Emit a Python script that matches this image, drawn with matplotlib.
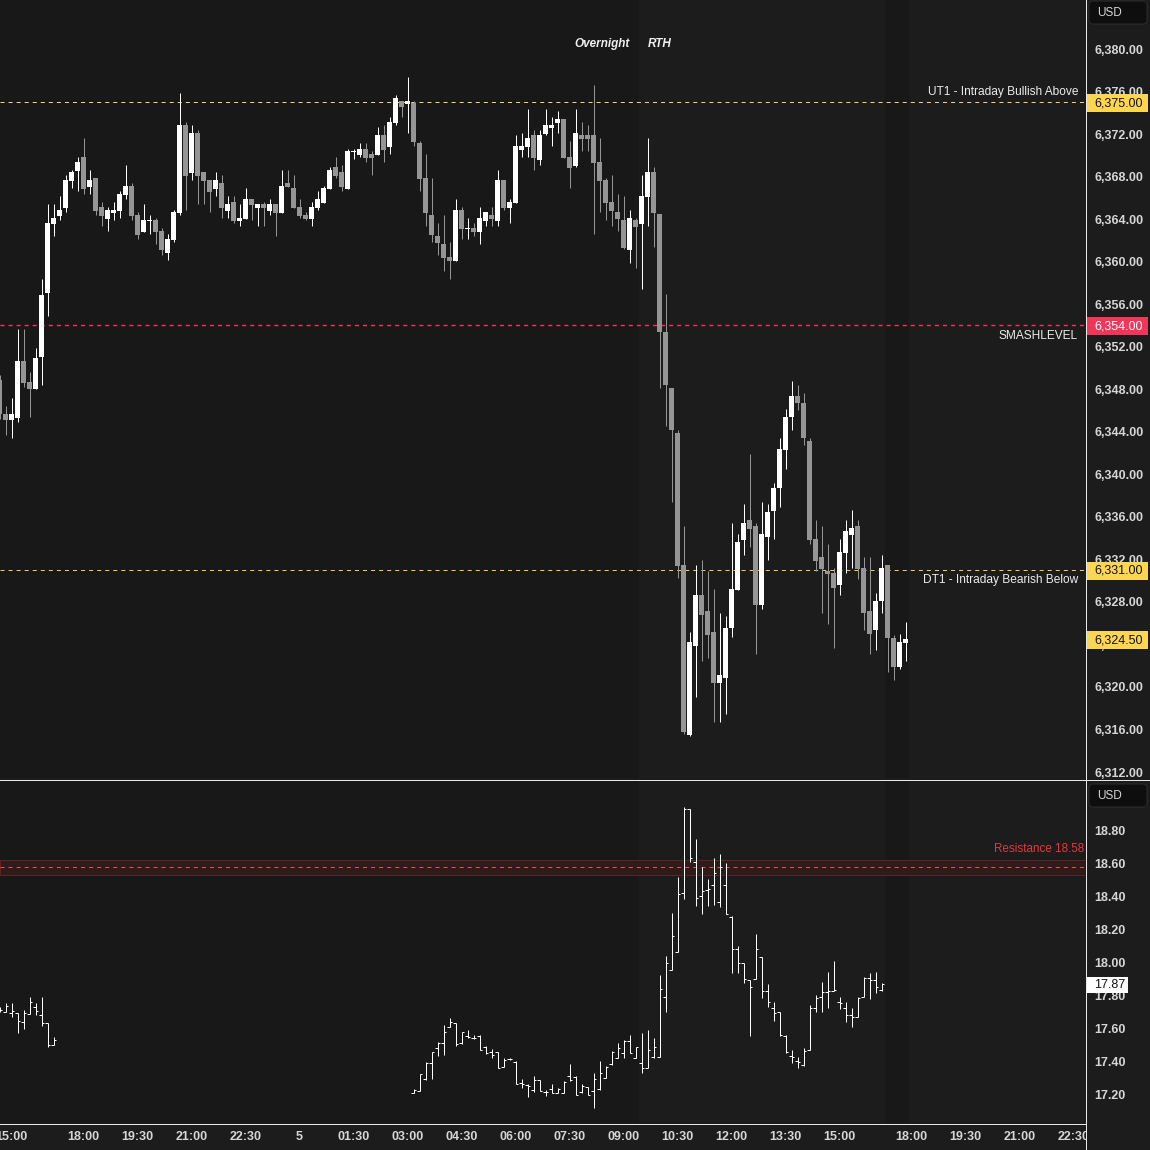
import numpy as np
import matplotlib
matplotlib.use("Agg")
import matplotlib.pyplot as plt
from matplotlib.patches import Rectangle, FancyBboxPatch
from matplotlib.lines import Line2D
from matplotlib.transforms import blended_transform_factory as btf, IdentityTransform

plt.rcParams['font.family'] = ['Liberation Sans', 'DejaVu Sans']
plt.rcParams['lines.scale_dashes'] = False

# ---------------------------------------------------------------- data
# 10-minute bars, 17:00-18:00 maintenance break is skipped on the time axis
es_first_bar = (4, "14:40")
es_open = [
    6348.87, 6345.67, 6345.11, 6345.32, 6350.65, 6348.67, 6348.04, 6351.05, 6357.07, 6363.56,
    6364.29, 6365.04, 6367.58, 6368.52, 6369.84, 6367.01, 6367.86, 6365.13, 6364.00, 6364.57,
    6364.76, 6366.26, 6367.11, 6364.38, 6362.78, 6363.82, 6363.91, 6362.88, 6360.80, 6362.03,
    6364.57, 6372.85, 6368.33, 6372.09, 6368.43, 6367.67, 6366.83, 6367.39, 6364.76, 6365.60,
    6363.82, 6364.00, 6365.89, 6365.04, 6365.42, 6364.76, 6365.42, 6364.57, 6367.39, 6366.92,
    6365.13, 6364.38, 6364.00, 6365.04, 6365.51, 6366.83, 6368.90, 6368.43, 6366.83, 6370.30,
    6370.03, 6370.60, 6370.13, 6370.03, 6371.91, 6370.79, 6373.04, 6375.11, 6374.83, 6374.92,
    6371.16, 6367.87, 6364.39, 6362.41, 6361.66, 6360.44, 6360.06, 6364.86, 6363.07, 6363.17,
    6362.79, 6363.82, 6364.39, 6363.82, 6367.68, 6365.05, 6365.52, 6370.50, 6370.79, 6371.91,
    6369.56, 6372.01, 6372.57, 6373.04, 6373.42, 6369.84, 6369.00, 6371.91, 6371.91, 6371.91,
    6369.37, 6367.68, 6365.61, 6364.67, 6363.92, 6361.10, 6363.92, 6363.54, 6366.08, 6368.43,
    6364.51, 6353.43, 6348.16, 6343.91, 6331.43, 6315.49, 6323.84, 6328.62, 6327.10, 6325.13,
    6320.35, 6320.80, 6325.55, 6329.11, 6333.82, 6335.67, 6335.15, 6327.75, 6334.12, 6336.59,
    6338.67, 6342.31, 6345.35, 6347.40, 6346.75, 6343.15, 6333.89, 6332.19, 6330.90, 6330.67,
    6329.57, 6332.57, 6334.27, 6335.15, 6331.16, 6327.10, 6325.32, 6328.05, 6331.43, 6324.64,
    6321.83, 6324.12]
es_high = [
    6349.30, 6346.42, 6347.18, 6353.66, 6353.66, 6349.58, 6351.87, 6358.36, 6365.42, 6365.42,
    6366.17, 6368.14, 6368.61, 6369.84, 6371.62, 6368.61, 6367.86, 6365.60, 6365.13, 6365.60,
    6366.64, 6369.08, 6367.39, 6364.66, 6365.42, 6364.38, 6364.10, 6363.16, 6362.59, 6364.85,
    6375.86, 6373.13, 6372.85, 6372.38, 6368.43, 6367.67, 6368.43, 6368.14, 6366.17, 6366.17,
    6365.42, 6366.92, 6365.89, 6365.42, 6365.60, 6365.89, 6365.42, 6368.61, 6368.61, 6368.14,
    6365.89, 6364.66, 6365.60, 6366.64, 6367.11, 6368.90, 6369.84, 6369.09, 6370.60, 6370.60,
    6371.16, 6371.16, 6370.41, 6372.67, 6372.86, 6373.61, 6375.68, 6375.11, 6377.37, 6375.11,
    6371.35, 6370.13, 6367.87, 6363.64, 6364.39, 6361.85, 6365.89, 6365.14, 6364.11, 6363.64,
    6365.14, 6364.67, 6365.14, 6368.62, 6367.68, 6365.89, 6371.91, 6372.10, 6374.36, 6372.38,
    6372.38, 6374.36, 6373.61, 6374.17, 6373.42, 6371.35, 6374.36, 6373.14, 6372.86, 6376.62,
    6371.63, 6367.87, 6368.15, 6366.36, 6366.18, 6364.86, 6364.11, 6368.15, 6371.63, 6368.90,
    6364.51, 6356.92, 6348.16, 6344.17, 6335.15, 6325.17, 6331.43, 6331.92, 6330.90, 6329.19,
    6326.91, 6326.65, 6335.41, 6334.38, 6337.19, 6341.93, 6335.41, 6337.38, 6337.19, 6339.21,
    6343.45, 6346.18, 6348.73, 6348.42, 6347.66, 6343.45, 6335.67, 6335.15, 6333.44, 6331.16,
    6333.89, 6335.67, 6336.62, 6335.67, 6332.19, 6332.19, 6328.88, 6332.38, 6331.43, 6324.90,
    6324.94, 6326.15]
es_low = [
    6345.20, 6343.70, 6343.41, 6344.94, 6348.17, 6345.41, 6348.04, 6348.42, 6354.91, 6362.44,
    6363.94, 6364.69, 6366.92, 6366.64, 6366.36, 6366.36, 6364.38, 6363.35, 6362.88, 6363.91,
    6364.10, 6365.89, 6363.91, 6362.12, 6362.78, 6362.59, 6361.65, 6360.62, 6360.15, 6361.84,
    6364.38, 6364.85, 6367.67, 6365.42, 6365.42, 6364.66, 6366.17, 6364.10, 6364.10, 6363.63,
    6363.35, 6364.00, 6363.91, 6363.35, 6363.35, 6364.38, 6362.40, 6364.57, 6367.01, 6365.04,
    6364.10, 6363.91, 6363.35, 6364.85, 6365.51, 6366.83, 6367.90, 6366.65, 6366.83, 6369.66,
    6369.84, 6369.37, 6368.15, 6370.03, 6369.37, 6370.13, 6372.86, 6373.61, 6372.10, 6370.88,
    6366.65, 6363.35, 6361.85, 6360.62, 6359.12, 6358.37, 6360.06, 6362.13, 6362.13, 6362.41,
    6361.66, 6363.35, 6363.35, 6363.35, 6364.86, 6363.64, 6365.52, 6369.84, 6369.84, 6368.62,
    6369.09, 6371.91, 6370.88, 6372.10, 6369.75, 6366.93, 6368.90, 6370.41, 6370.41, 6362.60,
    6364.67, 6363.92, 6363.35, 6362.88, 6361.19, 6359.87, 6359.40, 6357.43, 6363.35, 6361.38,
    6348.16, 6344.52, 6337.42, 6330.21, 6315.61, 6315.42, 6319.10, 6322.44, 6322.70, 6316.67,
    6316.67, 6317.43, 6324.67, 6329.11, 6332.42, 6333.17, 6323.12, 6327.37, 6331.92, 6333.89,
    6336.93, 6340.46, 6344.21, 6346.03, 6342.73, 6333.48, 6330.86, 6326.91, 6325.89, 6323.65,
    6328.62, 6330.71, 6331.16, 6330.14, 6325.39, 6323.12, 6323.46, 6326.91, 6321.37, 6320.62,
    6321.68, 6322.44]
es_close = [
    6345.64, 6345.11, 6345.67, 6350.65, 6348.61, 6348.04, 6350.93, 6356.85, 6363.63, 6364.10,
    6364.85, 6367.67, 6368.43, 6369.37, 6366.83, 6367.67, 6364.76, 6364.29, 6364.85, 6364.85,
    6366.36, 6367.11, 6364.29, 6362.50, 6363.91, 6363.91, 6362.78, 6361.09, 6362.12, 6364.66,
    6372.85, 6368.05, 6372.09, 6368.05, 6367.58, 6366.54, 6367.67, 6365.04, 6365.42, 6363.82,
    6364.10, 6365.89, 6365.32, 6365.42, 6365.04, 6365.42, 6364.57, 6367.11, 6367.01, 6365.04,
    6364.29, 6364.00, 6365.13, 6365.89, 6366.92, 6368.61, 6368.06, 6367.02, 6370.41, 6370.41,
    6370.60, 6369.75, 6369.75, 6371.91, 6370.50, 6373.14, 6375.40, 6374.55, 6375.11, 6371.26,
    6367.78, 6364.58, 6362.51, 6361.75, 6360.34, 6360.06, 6364.86, 6363.07, 6363.17, 6362.79,
    6364.11, 6364.67, 6364.01, 6367.68, 6365.05, 6365.61, 6370.88, 6370.88, 6371.63, 6369.75,
    6371.91, 6372.86, 6372.86, 6373.42, 6369.75, 6368.81, 6372.10, 6371.54, 6371.54, 6369.28,
    6367.59, 6365.52, 6364.76, 6364.01, 6361.28, 6364.11, 6363.26, 6366.18, 6368.43, 6364.58,
    6353.39, 6348.39, 6344.14, 6331.39, 6315.80, 6324.19, 6328.62, 6326.80, 6324.86, 6320.35,
    6321.15, 6325.58, 6329.19, 6333.63, 6335.41, 6334.84, 6327.75, 6334.38, 6336.43, 6338.71,
    6342.39, 6345.43, 6347.40, 6346.68, 6343.38, 6333.86, 6331.85, 6331.09, 6330.59, 6329.27,
    6332.68, 6334.65, 6334.96, 6331.09, 6326.99, 6325.01, 6328.13, 6331.16, 6324.56, 6321.83,
    6324.19, 6324.50]

# lower pane (volatility index), two trading segments
vix1_first_bar = (4, "14:40")
vix1_open  = [17.720, 17.701, 17.693, 17.697, 17.640, 17.687, 17.734, 17.683, 17.633, 17.501]
vix1_high  = [17.730, 17.754, 17.754, 17.697, 17.713, 17.794, 17.758, 17.794, 17.633, 17.552]
vix1_low   = [17.700, 17.699, 17.669, 17.576, 17.596, 17.687, 17.683, 17.616, 17.487, 17.501]
vix1_close = [17.713, 17.738, 17.709, 17.648, 17.697, 17.762, 17.709, 17.633, 17.501, 17.531]

vix2_first_bar = (5, "03:10")
vix2_open = [
    17.208, 17.224, 17.295, 17.394, 17.481, 17.511, 17.608, 17.632, 17.511, 17.558,
    17.545, 17.558, 17.491, 17.461, 17.461, 17.370, 17.414, 17.400, 17.269, 17.259,
    17.228, 17.289, 17.218, 17.232, 17.208, 17.208, 17.313, 17.309, 17.218, 17.248,
    17.222, 17.232, 17.303, 17.384, 17.424, 17.455, 17.527, 17.424, 17.390, 17.360,
    17.430, 17.430, 17.794, 17.955, 18.067, 18.420, 18.929, 18.612, 18.404, 18.440,
    18.471, 18.370, 18.471, 18.279, 18.081, 17.996, 17.895, 17.899, 18.032, 17.830,
    17.723, 17.699, 17.558, 17.434, 17.404, 17.380, 17.471, 17.727, 17.794, 17.824,
    17.828, 17.764, 17.723, 17.683, 17.669, 17.794, 17.905, 17.895, 17.834]
vix2_high = [
    17.232, 17.323, 17.400, 17.461, 17.521, 17.622, 17.663, 17.636, 17.582, 17.592,
    17.562, 17.562, 17.495, 17.475, 17.461, 17.424, 17.424, 17.404, 17.295, 17.265,
    17.313, 17.289, 17.228, 17.263, 17.238, 17.283, 17.386, 17.315, 17.265, 17.248,
    17.329, 17.404, 17.374, 17.465, 17.511, 17.531, 17.562, 17.491, 17.576, 17.592,
    17.545, 17.925, 18.040, 18.299, 18.517, 18.941, 18.929, 18.747, 18.582, 18.505,
    18.632, 18.659, 18.602, 18.283, 18.101, 18.000, 17.895, 18.174, 18.036, 17.871,
    17.764, 17.699, 17.562, 17.471, 17.430, 17.481, 17.743, 17.804, 17.885, 17.945,
    18.010, 17.790, 17.764, 17.723, 17.790, 17.915, 17.935, 17.945, 17.875]
vix2_low = [
    17.208, 17.224, 17.289, 17.295, 17.434, 17.440, 17.608, 17.497, 17.505, 17.545,
    17.535, 17.471, 17.444, 17.424, 17.360, 17.370, 17.410, 17.263, 17.242, 17.188,
    17.218, 17.222, 17.194, 17.208, 17.208, 17.208, 17.285, 17.198, 17.208, 17.198,
    17.117, 17.228, 17.299, 17.380, 17.420, 17.420, 17.455, 17.424, 17.333, 17.360,
    17.420, 17.430, 17.703, 17.955, 18.067, 18.384, 18.612, 18.343, 18.293, 18.343,
    18.349, 18.335, 18.293, 17.935, 17.935, 17.875, 17.555, 17.899, 17.784, 17.729,
    17.648, 17.555, 17.455, 17.394, 17.360, 17.376, 17.471, 17.699, 17.699, 17.723,
    17.828, 17.717, 17.638, 17.608, 17.669, 17.794, 17.778, 17.814, 17.830]
vix2_close = [
    17.228, 17.323, 17.390, 17.461, 17.511, 17.582, 17.642, 17.505, 17.578, 17.552,
    17.541, 17.471, 17.450, 17.440, 17.364, 17.410, 17.414, 17.263, 17.263, 17.253,
    17.289, 17.222, 17.214, 17.212, 17.232, 17.279, 17.289, 17.198, 17.253, 17.198,
    17.293, 17.329, 17.370, 17.461, 17.481, 17.525, 17.455, 17.491, 17.360, 17.471,
    17.491, 17.838, 17.996, 18.162, 18.416, 18.929, 18.636, 18.390, 18.434, 18.444,
    18.541, 18.578, 18.293, 18.081, 18.000, 17.899, 17.850, 18.081, 17.830, 17.760,
    17.697, 17.562, 17.461, 17.426, 17.400, 17.467, 17.723, 17.784, 17.820, 17.830,
    17.834, 17.758, 17.683, 17.673, 17.784, 17.909, 17.895, 17.850, 17.871]

# time-axis labels
time_ticks = [(4, "15:00"), (4, "18:00"), (4, "19:30"), (4, "21:00"), (4, "22:30"),
              (5, "00:00"), (5, "01:30"), (5, "03:00"), (5, "04:30"), (5, "06:00"),
              (5, "07:30"), (5, "09:00"), (5, "10:30"), (5, "12:00"), (5, "13:30"),
              (5, "15:00"), (5, "18:00"), (5, "19:30"), (5, "21:00"), (5, "22:30")]
time_labels = ["15:00", "18:00", "19:30", "21:00", "22:30", "5", "01:30", "03:00",
               "04:30", "06:00", "07:30", "09:00", "10:30", "12:00", "13:30", "15:00",
               "18:00", "19:30", "21:00", "22:30"]

# sessions (first and last bar)
rth_bars = ((5, "09:30"), (5, "16:10"))
post_bars = ((5, "16:20"), (5, "16:50"))

# levels
ut1_level, ut1_text = 6375.00, "UT1 - Intraday Bullish Above"
smash_level, smash_text = 6354.00, "SMASHLEVEL"
dt1_level, dt1_text = 6331.00, "DT1 - Intraday Bearish Below"
es_last = es_close[-1]
res_level, res_low, res_high = 18.58, 18.532, 18.622
vix_last = vix2_close[-1]

es_ticks = np.arange(6312, 6381, 4)
vix_ticks = np.round(np.arange(17.2, 18.81, 0.2), 2)

# ---------------------------------------------------------------- helpers
def bar_pos(day, hm):
    h, m = (int(s) for s in hm.split(":"))
    minutes = (day - 4) * 1440 + h * 60 + m - 15 * 60
    shift = sum(60 for brk in (4, 5) if minutes >= (brk - 4) * 1440 + 3 * 60)
    return (minutes - shift) / 10.0

BG = "#1c1c1c"
DARK = "#181818"
UP = "#ffffff"
DOWN = "#959595"
TXT = "#d6d6d6"
PX = 0.72  # one pixel in points

fig = plt.figure(figsize=(11.5, 11.5), dpi=100, facecolor=BG)
W = 1150.0
ax1 = fig.add_axes([0, 1 - 778 / W, 1085 / W, 778 / W])
ax2 = fig.add_axes([0, 1 - 1123 / W, 1085 / W, 343 / W])

xlim = (-11.5 / 6, (1085 - 11.5) / 6)
for ax in (ax1, ax2):
    ax.set_facecolor(BG)
    ax.set_xlim(*xlim)
    for s in ax.spines.values():
        s.set_visible(False)
    ax.axvspan(xlim[0], bar_pos(*rth_bars[0]) - 0.5, color=DARK, lw=0, zorder=0)
    ax.axvspan(bar_pos(*post_bars[0]) - 0.5, bar_pos(*post_bars[1]) + 0.5,
               color=DARK, lw=0, zorder=0)

ax1.set_ylim(6311.436, 6384.609)
ax2.set_ylim(17.0285, 19.107)

# ---------------- candles
x0 = bar_pos(*es_first_bar)
xs = x0 + np.arange(len(es_open))
o = np.array(es_open); h = np.array(es_high); l = np.array(es_low); c = np.array(es_close)
up = c >= o
cols = np.where(up, UP, DOWN)
ax1.vlines(xs, l, h, colors=cols, linewidth=PX, zorder=3)
body_lo = np.minimum(o, c)
body_h = np.maximum(np.abs(c - o), 0.1)
ax1.bar(xs, body_h, bottom=body_lo, width=5 / 6, color=cols, linewidth=0, zorder=4)

# ---------------- level lines
dash = (0, (2.9, 2.9))
ax1.axhline(ut1_level, color="#f3d675", lw=PX, ls=dash, zorder=2, snap=True)
ax1.axhline(smash_level, color="#ff2e5f", lw=1.0, ls=dash, zorder=2, snap=True)
ax1.axhline(dt1_level, color="#f5cf4a", lw=PX, ls=dash, zorder=2, snap=True)

tr_level = btf(ax1.transAxes, ax1.transData)
lab_kw = dict(xycoords=tr_level, textcoords="offset points", ha="right", va="center",
              color="#ececec", fontsize=8.6, zorder=6)
ax1.annotate(ut1_text, xy=(1078 / 1085, ut1_level), xytext=(0, 7.2), **lab_kw)
ax1.annotate(smash_text, xy=(1078 / 1085, smash_level), xytext=(0, -7.9), **lab_kw)
ax1.annotate(dt1_text, xy=(1078 / 1085, dt1_level), xytext=(0, -7.2), **lab_kw)

tr_sess = btf(ax1.transData, ax1.transAxes)
sess_x = bar_pos(*rth_bars[0]) - 0.5
ax1.annotate("Overnight", xy=(sess_x, 1 - 44 / 778), xycoords=tr_sess, xytext=(-6.5, 0),
             textcoords="offset points", ha="right", va="center", color="#f0f0f0",
             fontsize=8.5, fontstyle="italic", fontweight="bold")
ax1.annotate("RTH", xy=(sess_x, 1 - 44 / 778), xycoords=tr_sess, xytext=(6.5, 0),
             textcoords="offset points", ha="left", va="center", color="#f0f0f0",
             fontsize=8.5, fontstyle="italic", fontweight="bold")

# ---------------- lower pane OHLC bars
def ohlc(ax, first, op, hi, lo, cl):
    xv = bar_pos(*first) + np.arange(len(op))
    ax.vlines(xv, lo, hi, colors="#ffffff", linewidth=PX, zorder=3)
    ax.hlines(op, xv - 2.5 / 6, xv, colors="#ffffff", linewidth=PX, zorder=3)
    ax.hlines(cl, xv, xv + 2.5 / 6, colors="#ffffff", linewidth=PX, zorder=3)

ohlc(ax2, vix1_first_bar, vix1_open, vix1_high, vix1_low, vix1_close)
ohlc(ax2, vix2_first_bar, vix2_open, vix2_high, vix2_low, vix2_close)

ax2.axhspan(res_low, res_high, facecolor="#301b1b", edgecolor="#5e2424", lw=PX, zorder=1)
ax2.axhline(res_level, color="#e0574c", lw=PX, ls=dash, zorder=2, snap=True)
ax2.annotate(f"Resistance {res_level:.2f}", xy=(1.0, res_high), xycoords=btf(ax2.transAxes, ax2.transData),
             xytext=(-0.5, 3.5), textcoords="offset points", ha="right", va="bottom",
             color="#e0393e", fontsize=8.4, zorder=6)

# ---------------- axes ticks
tick_font = dict(labelsize=9, labelcolor=TXT)
ax1.set_xticks([])
ax1.yaxis.tick_right()
ax1.set_yticks(es_ticks)
ax1.set_yticklabels([f"{v:,.2f}" for v in es_ticks], fontweight="bold")
ax1.tick_params(axis="y", length=0, pad=6.5, **tick_font)

ax2.yaxis.tick_right()
ax2.set_yticks(vix_ticks)
ax2.set_yticklabels([f"{v:.2f}" for v in vix_ticks], fontweight="bold")
ax2.tick_params(axis="y", length=0, pad=6.5, **tick_font)
ax2.set_xticks([bar_pos(d, t) for d, t in time_ticks])
ax2.set_xticklabels(time_labels, fontweight="bold")
ax2.tick_params(axis="x", length=0, pad=6.0, **tick_font)

# ---------------- frame lines (pixel coords)
I = IdentityTransform()
def Y(y):  # top-based pixel -> display
    return W - y

fig.add_artist(Rectangle((1085.5, 0), 70, Y(1123.5), transform=I, color=BG, lw=0, zorder=2))
fig.add_artist(Line2D([0, W], [Y(779.5)] * 2, transform=I, color="#e8e8e8", lw=PX, zorder=3))
fig.add_artist(Line2D([0, 1085.5], [Y(1123.5)] * 2, transform=I, color="#e8e8e8", lw=PX, zorder=3))
fig.add_artist(Line2D([1085.5, 1085.5], [0, W], transform=I, color="#e8e8e8", lw=PX, zorder=3))

# USD boxes
for top in (1, 784):
    fig.add_artist(FancyBboxPatch((1089, Y(top + 23)), 58, 23, boxstyle="round,pad=0,rounding_size=4",
                                  transform=I, fc="#0e0e0e", ec="#2c2c2c", lw=PX, zorder=4))
    fig.text(1097, Y(top + 12), "USD", transform=I, ha="left", va="center",
             color=TXT, fontsize=8.5, zorder=5)

# price labels on the scale
def price_tag(ax, value, text, face, tcolor, right=1148, hgt=18):
    yd = ax.transData.transform((0, value))[1] - 1
    fig.add_artist(Rectangle((1086.5, yd - hgt / 2), right - 1086.5, hgt, transform=I,
                             fc=face, lw=0, zorder=6))
    fig.text(1094, yd, text, transform=I, ha="left", va="center", color=tcolor,
             fontsize=9, zorder=7)

price_tag(ax1, ut1_level, f"{ut1_level:,.2f}", "#fdd651", "#131313")
price_tag(ax1, smash_level, f"{smash_level:,.2f}", "#f2365a", "#ffffff")
price_tag(ax1, dt1_level, f"{dt1_level:,.2f}", "#fdd651", "#131313")
price_tag(ax1, es_last, f"{es_last:,.2f}", "#fdd651", "#131313")
price_tag(ax2, vix_last, f"{vix_last:.2f}", "#ffffff", "#131313", right=1128, hgt=16)

fig.savefig("out.png", dpi=100, facecolor=BG)
